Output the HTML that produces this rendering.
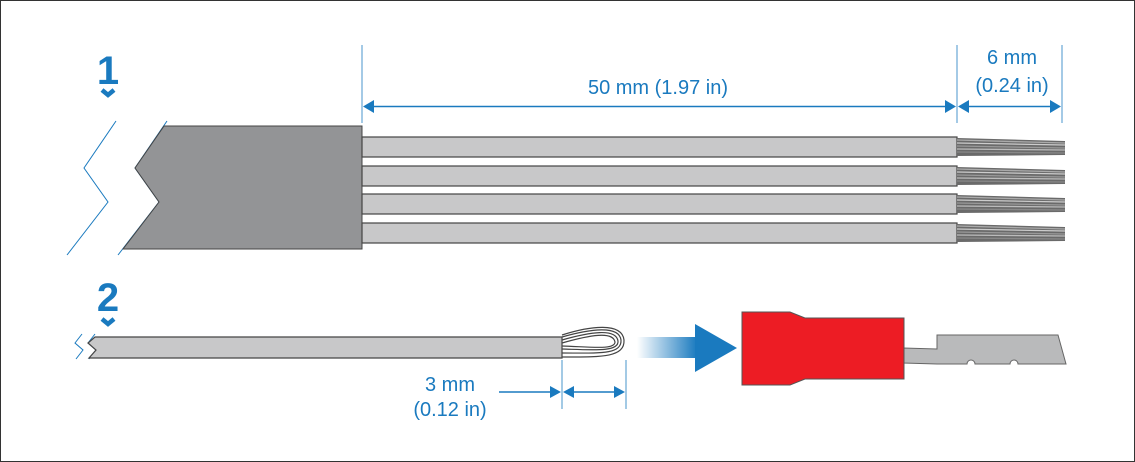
<!DOCTYPE html>
<html><head><meta charset="utf-8"><style>html,body{margin:0;padding:0;background:#fff}svg{display:block}</style></head>
<body>
<svg width="1135" height="462" viewBox="0 0 1135 462" xmlns="http://www.w3.org/2000/svg" font-family="Liberation Sans, sans-serif">
<defs>
<linearGradient id="ag" x1="0" x2="1" y1="0" y2="0"><stop offset="0" stop-color="#1a7abf" stop-opacity="0"/><stop offset="1" stop-color="#1a7abf"/></linearGradient>
<g id="strand">
<polygon points="0,1 108,4 108,18 0,19" fill="#6a6a6a"/>
<g stroke-width="1.3" fill="none">
<line x1="0" y1="3" x2="108" y2="6" stroke="#aaa"/>
<line x1="0" y1="6" x2="108" y2="8" stroke="#ccc"/>
<line x1="0" y1="9" x2="108" y2="11" stroke="#999"/>
<line x1="0" y1="12" x2="108" y2="13" stroke="#bbb"/>
<line x1="0" y1="15" x2="108" y2="16" stroke="#888"/>
</g>
</g>
</defs>
<rect x="0.5" y="0.5" width="1134" height="461" fill="#fff" stroke="#333"/>
<text x="108" y="84" font-size="40" font-weight="bold" fill="#1a7abf" text-anchor="middle">1</text>
<path d="M102 90 l6 5 l6 -5" fill="none" stroke="#1a7abf" stroke-width="4.5"/>
<text x="108" y="311" font-size="40" font-weight="bold" fill="#1a7abf" text-anchor="middle">2</text>
<path d="M102 319 l6 5 l6 -5" fill="none" stroke="#1a7abf" stroke-width="4.5"/>
<polyline points="116,121 84,168 108,202 67,255" fill="none" stroke="#1a7abf" stroke-width="1"/>
<polyline points="167,121 135,168 159,202 118,255" fill="none" stroke="#1a7abf" stroke-width="1"/>
<polygon points="164,126 362,126 362,249 123,249 159,202 135,168" fill="#939496" stroke="#444" stroke-width="1"/>
<g stroke="#444" stroke-width="1.2" fill="#c8c8c9">
<rect x="362" y="137" width="595" height="20"/>
<rect x="362" y="166" width="595" height="20"/>
<rect x="362" y="194" width="595" height="20"/>
<rect x="362" y="223" width="595" height="20"/>
</g>
<use href="#strand" x="957" y="137"/>
<use href="#strand" x="957" y="166"/>
<use href="#strand" x="957" y="194"/>
<use href="#strand" x="957" y="223"/>
<g stroke="#1a7abf" stroke-width="1" fill="none" opacity="0.8">
<line x1="362" y1="45" x2="362" y2="123"/>
<line x1="957" y1="45" x2="957" y2="123"/>
<line x1="1062" y1="45" x2="1062" y2="123"/>
</g>
<g stroke="#1a7abf" stroke-width="1.5"><line x1="372" y1="106.5" x2="947" y2="106.5"/><line x1="967" y1="106.5" x2="1052" y2="106.5"/></g>
<g fill="#1a7abf">
<polygon points="363,106.5 374,100 374,113"/>
<polygon points="956,106.5 945,100 945,113"/>
<polygon points="958,106.5 969,100 969,113"/>
<polygon points="1061,106.5 1050,100 1050,113"/>
</g>
<g fill="#1a7abf" font-size="20" text-anchor="middle">
<text x="658" y="94">50 mm (1.97 in)</text>
<text x="1012" y="64">6 mm</text>
<text x="1012" y="92">(0.24 in)</text>
<text x="450" y="391">3 mm</text>
<text x="450" y="416">(0.12 in)</text>
</g>
<polyline points="82,334 75,343 83,350 76,359" fill="none" stroke="#1a7abf"/>
<polyline points="95,334 88,343 96,350 89,359" fill="none" stroke="#1a7abf"/>
<polygon points="95,337 562,337 562,358 89,358 96,350 88,343" fill="#c8c8c9" stroke="#444" stroke-width="1.2"/>
<g fill="none" stroke="#444" stroke-width="1.2">
<path d="M562 335 C590 326 622 322 624 340 C625 358 600 357 562 357"/>
<path d="M562 337 C590 329 619 325 621 340 C622 355 598 353 562 353"/>
<path d="M562 340 C590 332 616 328 618 341 C619 352 595 350 562 349"/>
<path d="M562 343 C590 335 613 331 615 342 C615 350 592 347 562 346"/>
</g>
<g stroke="#1a7abf" stroke-width="1" opacity="0.8"><line x1="562" y1="360" x2="562" y2="409"/><line x1="626" y1="360" x2="626" y2="409"/></g>
<g stroke="#1a7abf" stroke-width="1.5"><line x1="499" y1="392" x2="552" y2="392"/><line x1="572" y1="392" x2="616" y2="392"/></g>
<g fill="#1a7abf">
<polygon points="561,392 550,386 550,398"/>
<polygon points="563,392 574,386 574,398"/>
<polygon points="625,392 614,386 614,398"/>
</g>
<rect x="637" y="337" width="60" height="21" fill="url(#ag)"/>
<polygon points="695,324 737,348 695,372" fill="#1a7abf"/>
<path d="M903,348 L937,349 L937,335 L1058,335 L1066,364 L1018,364 A4,4 0 0 0 1010,364 L975,364 A4,4 0 0 0 967,364 L937,364 L903,363 Z" fill="#b9babb" stroke="#666" stroke-width="1"/>
<path d="M742 312 L790 312 L805 318 L904 318 L904 379 L805 379 L790 385 L742 385 Z" fill="#ed1c24" stroke="#555" stroke-width="1"/>
</svg>
</body></html>
